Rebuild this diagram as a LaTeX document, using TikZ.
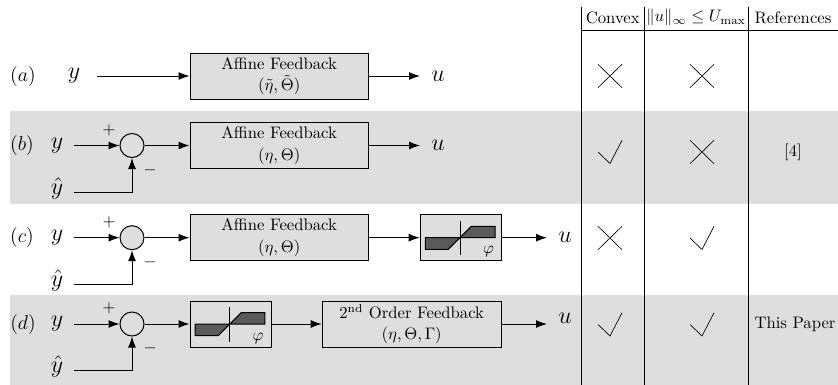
\documentclass[tikz,border=0pt]{standalone}
\usetikzlibrary{arrows.meta,calc}
\definecolor{bandgray}{HTML}{DEDEDE}
\definecolor{satgray}{HTML}{5A5A5A}
\tikzset{
  flow/.style={line width=0.6pt,-{Latex[length=6.6pt,width=4.8pt]}},
  fb/.style={draw,line width=0.6pt,fill=bandgray,anchor=west,inner sep=0pt,align=center,font=\normalsize},
  sumnode/.style={draw,circle,line width=0.6pt,fill=bandgray,minimum size=14.4pt,inner sep=0pt},
  sig/.style={font=\Large,inner sep=0pt},
  rowlab/.style={font=\large,inner sep=0pt},
  sgn/.style={font=\normalsize,inner sep=0pt},
  hdr/.style={font=\normalsize,inner sep=0pt},
  markline/.style={line width=0.4pt},
  rule/.style={line width=0.6pt},
  satpoly/.style={draw,line width=0.6pt,fill=satgray}
}
\newcommand{\satbox}[3]{%
  \node[fb,minimum width=48.7pt,minimum height=27.6pt] (#3) at (#1-40.3,#2) {};
  \draw[satpoly] (#1-34.6,#2) -- (#1,#2) -- (#1+11.4,#2-11.4) -- (#1+35.1,#2-11.4) -- (#1+35.1,#2) -- (#1,#2) -- (#1-11.6,#2+11.6) -- (#1-34.6,#2+11.6) -- cycle;
}
\begin{document}
\begin{tikzpicture}[x=0.6pt,y=-0.6pt]
\useasboundingbox (0,0) rectangle (838,385);
\fill[bandgray] (10,111) rectangle (838,204);
\fill[bandgray] (10,295) rectangle (838,385);
% rules
\draw[rule] (581.5,7) -- (581.5,385);
\draw[rule] (644.7,7) -- (644.7,385);
\draw[rule] (748.3,7) -- (748.3,385);
\draw[rule] (581.5,30) -- (838,30);
\node[hdr] (h1) at (612.7,17.5) {Convex};
\node[hdr] (h2) at (696,17.5) {$\|u\|_\infty\leq U_{\max}$};
\node[hdr] (h3) at (793,17.5) {References};
\node[hdr] (r4) at (793,152) {[4]};
\node[hdr] (r5) at (795,324) {This Paper};
% row a
\node[rowlab] (la) at (23,76) {$(a)$};
\node[sig] (ya) at (74,76) {$y$};
\coordinate (ya0) at (97,76);
\node[fb,minimum width=107pt,minimum height=27.6pt] (ba) at (189.5,76) {Affine Feedback\\[1pt]$(\tilde\eta,\tilde\Theta)$};
\node[sig] (ua) at (438,76) {$u$};
\coordinate (ua0) at (420,76);
\draw[flow] (ya0) -- (ba.west);
\draw[flow] (ba.east) -- (ua0);
% row b
\node[rowlab] (lb) at (22,145.5) {$(b)$};
\node[sig] (yb) at (57,145.5) {$y$};
\node[sig] (hb) at (57,188) {$\hat y$};
\coordinate (yb0) at (74,145.5);
\coordinate (hb0) at (74,192);
\node[sumnode] (sb) at (132,145.5) {};
\node[sgn] (pb) at (109,130) {$+$};
\node[sgn] (mb) at (150,170) {$-$};
\node[fb,minimum width=107pt,minimum height=27.6pt] (bb) at (189.5,145.5) {Affine Feedback\\[1pt]$(\eta,\Theta)$};
\node[sig] (ub) at (438,145) {$u$};
\coordinate (ub0) at (420,145.5);
\draw[flow] (yb0) -- (sb.west);
\draw[flow] (sb.east) -- (bb.west);
\draw[flow] (hb0) -| (sb.south);
\draw[flow] (bb.east) -- (ub0);
% row c
\node[rowlab] (lc) at (22,237.7) {$(c)$};
\node[sig] (yc) at (57,237.7) {$y$};
\node[sig] (hc) at (57,280) {$\hat y$};
\coordinate (yc0) at (74,237.7);
\coordinate (hc0) at (74,284);
\node[sumnode] (sc) at (132,237.7) {};
\node[sgn] (pc) at (109,222) {$+$};
\node[sgn] (mc) at (150,262) {$-$};
\node[fb,minimum width=107pt,minimum height=27.6pt] (bc) at (189.5,237.7) {Affine Feedback\\[1pt]$(\eta,\Theta)$};
\satbox{460}{237.7}{satc}
\draw[line width=0.6pt] (460,220.7) -- (460,255);
\node[sgn] (phic) at (488.5,252) {$\varphi$};
\node[sig] (uc) at (565,237) {$u$};
\coordinate (uc0) at (547,237.7);
\draw[flow] (yc0) -- (sc.west);
\draw[flow] (sc.east) -- (bc.west);
\draw[flow] (hc0) -| (sc.south);
\draw[flow] (bc.east) -- (satc.west);
\draw[flow] (satc.east) -- (uc0);
% row d
\node[rowlab] (ld) at (23,324) {$(d)$};
\node[sig] (yd) at (57,324) {$y$};
\node[sig] (hd) at (57,366) {$\hat y$};
\coordinate (yd0) at (74,324);
\coordinate (hd0) at (74,370);
\node[sumnode] (sd) at (132,324) {};
\node[sgn] (pd) at (109,308) {$+$};
\node[sgn] (md) at (150,348) {$-$};
\satbox{229.8}{324}{satd}
\draw[line width=0.6pt] (229.8,307) -- (229.8,342);
\node[sgn] (phid) at (258,338.5) {$\varphi$};
\node[fb,minimum width=107.4pt,minimum height=27.6pt] (bd) at (321.7,324) {$2^{\mathrm{nd}}$ Order Feedback\\[1pt]$(\eta,\Theta,\Gamma)$};
\node[sig] (ud) at (565,318) {$u$};
\coordinate (ud0) at (547,324);
\draw[flow] (yd0) -- (sd.west);
\draw[flow] (sd.east) -- (satd.west);
\draw[flow] (hd0) -| (sd.south);
\draw[flow] (satd.east) -- (bd.west);
\draw[flow] (bd.east) -- (ud0);
% marks
\foreach \x/\y in {610/76,702/76,702/152,610/238}{
  \draw[markline] (\x-12,\y-11.7) -- (\x+12,\y+11.7) (\x-12,\y+11.7) -- (\x+12,\y-11.7);
}
\foreach \x/\y in {610/152,610/324.5,702/238,702/324.5}{
  \draw[markline] (\x-12,\y) -- (\x,\y+11.5) -- (\x+12,\y-11.7);
}
\end{tikzpicture}
\end{document}
